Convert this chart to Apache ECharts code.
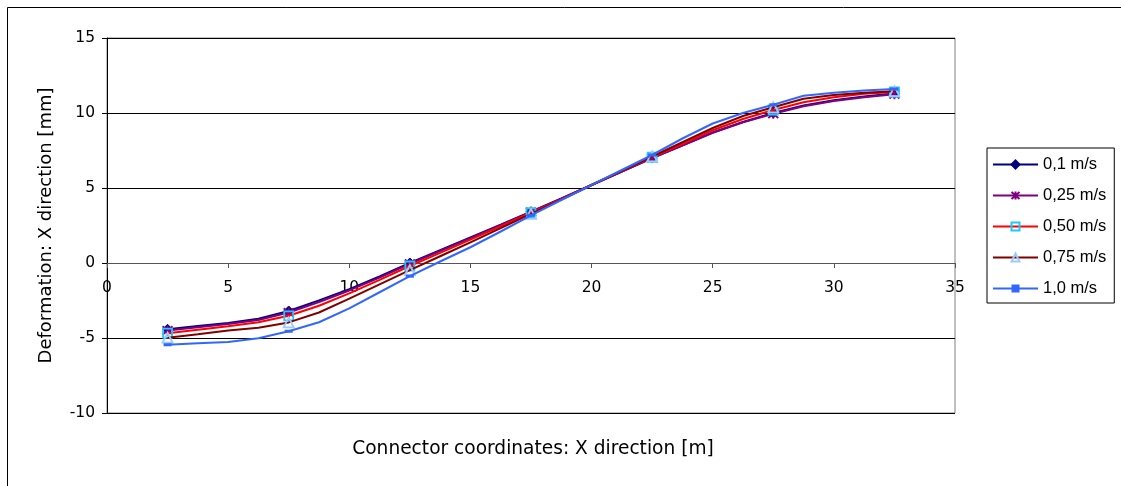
<!DOCTYPE html>
<html>
<head>
<meta charset="utf-8">
<script src="https://cdn.jsdelivr.net/npm/echarts@6/dist/echarts.min.js"></script>
<style>
html,body{margin:0;padding:0;background:#fff;}
#chart{width:1121px;height:486px;}
</style>
</head>
<body>
<div id="chart"></div>
<script>
// X positions along the connector [m]
const xValues = [2.5,3.75,5,6.25,7.5,8.75,10,11.25,12.5,13.75,15,16.25,17.5,18.75,20,21.25,22.5,23.75,25,26.25,27.5,28.75,30,31.25,32.5];
// Marker shown at every 4th point (2.5, 7.5, ... 32.5)
const markerEvery = 4;

const seriesNames = ['0,1 m/s','0,25 m/s','0,50 m/s','0,75 m/s','1,0 m/s'];

const s01  = [-4.42,-4.2,-4.0,-3.72,-3.2,-2.5,-1.75,-0.9,0.0,0.85,1.7,2.55,3.42,4.3,5.2,6.1,7.0,7.85,8.7,9.4,10.0,10.5,10.85,11.1,11.3];
const s025 = [-4.5,-4.28,-4.07,-3.8,-3.3,-2.6,-1.83,-0.97,-0.05,0.8,1.66,2.52,3.4,4.28,5.2,6.1,7.0,7.83,8.68,9.38,9.95,10.45,10.8,11.05,11.25];
const s050 = [-4.68,-4.45,-4.22,-3.95,-3.52,-2.85,-2.02,-1.12,-0.2,0.68,1.56,2.45,3.35,4.25,5.2,6.12,7.05,7.92,8.85,9.6,10.2,10.72,11.05,11.28,11.4];
const s075 = [-4.98,-4.75,-4.5,-4.32,-3.96,-3.3,-2.38,-1.42,-0.47,0.45,1.37,2.32,3.28,4.22,5.2,6.15,7.1,8.05,9.0,9.8,10.38,10.95,11.2,11.35,11.45];
const s100 = [-5.45,-5.35,-5.27,-5.02,-4.55,-3.95,-3.02,-1.95,-0.88,0.1,1.05,2.1,3.18,4.2,5.2,6.2,7.2,8.3,9.3,10.0,10.55,11.15,11.35,11.5,11.6];

const xTicks = [0,5,10,15,20,25,30,35];
const yTicks = [-10,-5,0,5,10,15];
const yMin = -10, yMax = 15;

const xTitle = 'Connector coordinates: X direction [m]';
const yTitle = 'Deformation: X direction [mm]';

const allValues = [s01, s025, s050, s075, s100];
const lineColors = ['#000080','#800080','#FF0000','#800000','#3366FF'];
const asterisk = 'path://M0,-5L0,5M-4.3,-4.3L4.3,4.3M-4.3,4.3L4.3,-4.3';
const markers = [
  {symbol:'diamond', size:10, item:{color:'#000080', borderColor:'#000080', borderWidth:1}},
  {symbol:asterisk, size:10, item:{color:'#800080', borderColor:'#800080', borderWidth:1.8}},
  {symbol:'rect', size:9, item:{color:'rgba(255,255,255,0)', borderColor:'#1EC8FF', borderWidth:1.8}},
  {symbol:'triangle', size:10, item:{color:'rgba(255,255,255,0)', borderColor:'#99CCFF', borderWidth:1.8}},
  {symbol:'rect', size:[8,3], item:{color:'#3366FF', borderColor:'#3366FF', borderWidth:0}}
];

function buildData(vals){
  return vals.map((v,i)=> i % markerEvery === 0 ? {value:[xValues[i], v]} : {value:[xValues[i], v], symbol:'none'});
}

const series = allValues.map((vals, k) => ({
  name: seriesNames[k],
  type: 'line',
  data: buildData(vals),
  symbol: markers[k].symbol,
  symbolSize: markers[k].size,
  showAllSymbol: true,
  lineStyle: {color: lineColors[k], width: 2},
  itemStyle: markers[k].item,
  emphasis: {disabled: true},
  animation: false,
  z: 2 + k
}));

const tickFont = 'DejaVu Sans, sans-serif';
const gridTop = 38, gridBottom = 73, chartH = 486;
const plotH = chartH - gridTop - gridBottom;
// shift the x axis up to the y = 0 line (Excel-style crossing)
const xAxisOffset = -plotH * (0 - yMin) / (yMax - yMin);

const chart = echarts.init(document.getElementById('chart'), null, {renderer:'canvas'});
chart.setOption({
  animation: false,
  backgroundColor: '#ffffff',
  textStyle: {fontFamily: tickFont, color:'#000'},
  title: {
    text: xTitle, left: 528, top: 435, textAlign: 'center',
    textStyle: {fontSize: 18.6, fontWeight: 'normal', color: '#000', fontFamily: tickFont}
  },
  graphic: [{
    type: 'rect', left: 5, top: 5, shape: {width: 1130, height: 500},
    style: {fill: 'none', stroke: '#000', lineWidth: 1}, silent: true, z: -1
  }],
  grid: {left: 107, right: 166, top: gridTop, bottom: gridBottom, show: true, borderColor: '#808080', borderWidth: 1,
         containLabel: false, outerBoundsMode: 'none'},
  legend: {
    orient: 'vertical', left: 987, top: 148,
    data: seriesNames,
    itemWidth: 45, itemHeight: 10, itemGap: 14,
    padding: [8, 8, 6, 5],
    borderColor: '#000', borderWidth: 1, backgroundColor: '#fff',
    textStyle: {fontSize: 16.5, color: '#000', fontFamily: 'Liberation Sans, Arial, sans-serif'},
    selectedMode: false
  },
  xAxis: {
    type: 'value', min: 0, max: 35, interval: 5,
    position: 'bottom', offset: xAxisOffset,
    axisLine: {onZero: false, lineStyle: {color: '#555', width: 1}},
    axisTick: {show: true, length: 5, inside: false, lineStyle: {color: '#555'}},
    axisLabel: {fontSize: 15.5, color: '#000', margin: 17, fontFamily: tickFont,
      formatter: v => xTicks.includes(v) ? String(v) : ''},
    splitLine: {show: false}
  },
  yAxis: {
    type: 'value', min: yMin, max: yMax, interval: 5,
    name: yTitle,
    nameLocation: 'middle', nameGap: 52,
    nameTextStyle: {fontSize: 18, color: '#000', fontFamily: tickFont},
    axisLine: {show: true, onZero: false, lineStyle: {color: '#000', width: 1}},
    axisTick: {show: true, length: 5, lineStyle: {color: '#000'}},
    axisLabel: {fontSize: 15.5, color: '#000', margin: 12, fontFamily: tickFont,
      formatter: v => yTicks.includes(v) ? String(v) : ''},
    splitLine: {show: true, lineStyle: {color: '#000', width: 1}}
  },
  series: series
});
</script>
</body>
</html>
